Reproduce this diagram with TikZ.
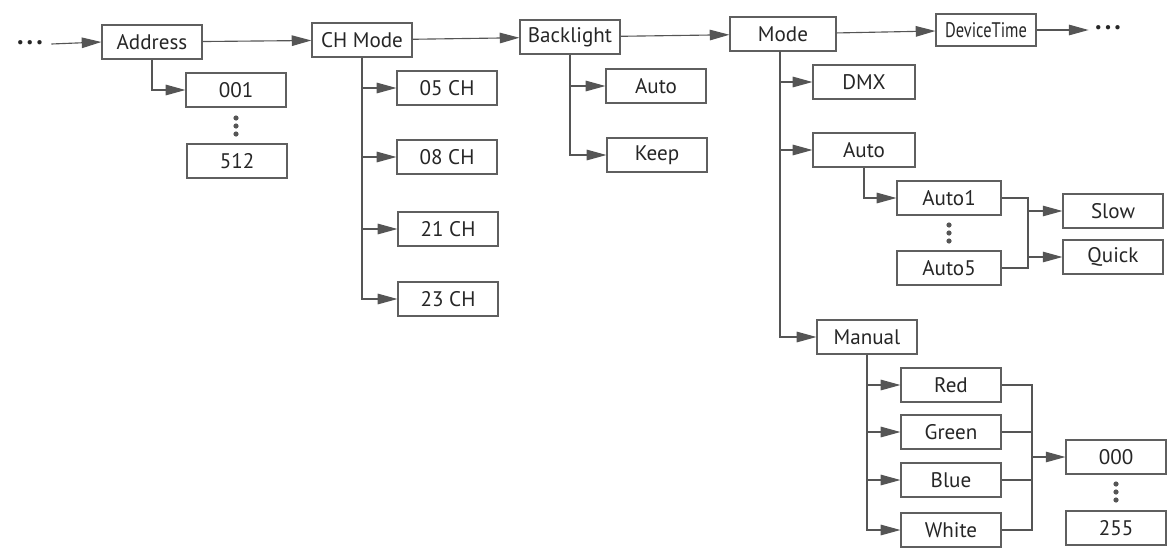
\documentclass[tikz,border=0pt]{standalone}
\usepackage{fontspec}
\setmainfont{PT Sans}
\usetikzlibrary{arrows.meta}
\definecolor{linie}{RGB}{85,85,85}
\definecolor{rahmen}{RGB}{95,95,95}
\tikzset{
	box/.style={draw=rahmen, line width=0.8pt, minimum width=2.5cm, minimum height=0.85cm, inner sep=0pt, font=\fontsize{15}{17}\selectfont, text=black!85},
	verb/.style={draw=linie, line width=0.8pt},
	pfeil/.style={verb, -{Triangle[length=14pt,width=7.5pt]}},
	punkte/.style={font=\fontsize{11}{13}\selectfont, text=black!85, inner sep=0pt},
}
\begin{document}
\begin{tikzpicture}[x=0.025cm, y=-0.025cm]
	
	\useasboundingbox (0,0) rectangle (1170,547);
	
	% Hauptzeile
	\node[punkte] (anfang) at (30,44) {\textbullet\,\textbullet\,\textbullet};
	\node[box] (address) at (152,42) {Address};
	\node[box] (chmode) at (362,40) {CH Mode};
	\node[box] (backlight) at (570,37) {Backlight};
	\node[box, minimum width=2.65cm] (mode) at (783,34) {Mode};
	\node[box, minimum height=0.8cm] (devtime) at (986,30) {\scalebox{0.78}[1]{DeviceTime}};
	\node[punkte] (ende) at (1108,29) {\textbullet\,\textbullet\,\textbullet};
	
	\draw[pfeil] (anfang.east) ++(8,0) -- (address.west);
	\draw[pfeil] (address) -- (chmode);
	\draw[pfeil] (chmode) -- (backlight);
	\draw[pfeil] (backlight) -- (mode);
	\draw[pfeil] (mode) -- (devtime);
	\draw[pfeil] (devtime.east) -- ++(52,0) coordinate (pfeilende);
	
	% Address
	\node[box] (a001) at (236,90) {001};
	\node[box] (a512) at (237,161) {512};
	\foreach \y in {118,126,134} \fill[linie] (236,\y) circle (2.6);
	\draw[pfeil] (address.south) |- (a001.west);
	
	% CH Mode
	\node[box] (ch05) at (447,88) {05 CH};
	\node[box] (ch08) at (447,157) {08 CH};
	\node[box] (ch21) at (448,229) {21 CH};
	\node[box] (ch23) at (448,299) {23 CH};
	\foreach \k in {ch05,ch08,ch21,ch23}
		\draw[pfeil] (chmode.south) |- (\k.west);
	
	% Backlight
	\node[box] (bauto) at (656,86) {Auto};
	\node[box] (bkeep) at (657,155) {Keep};
	\foreach \k in {bauto,bkeep}
		\draw[pfeil] (backlight.south) |- (\k.west);
	
	% Mode
	\node[box, minimum width=2.55cm] (dmx) at (864,82) {DMX};
	\node[box, minimum width=2.55cm] (mauto) at (864,150) {Auto};
	\node[box] (manual) at (867,337) {Manual};
	\coordinate (modefuss) at (780,51);
	\foreach \k in {dmx,mauto,manual}
		\draw[pfeil] (modefuss) |- (\k.west);
	
	% Auto
	\node[box, minimum width=2.6cm] (auto1) at (949,198) {Auto1};
	\node[box, minimum width=2.6cm] (auto5) at (949,268) {Auto5};
	\foreach \y in {225,233,241} \fill[linie] (949,\y) circle (2.6);
	\node[box] (slow) at (1113,211) {Slow};
	\node[box] (quick) at (1113,257) {Quick};
	\draw[pfeil] (mauto.south) |- (auto1.west);
	\coordinate (abus) at (1028,0);
	\draw[verb] (auto1.east) -| (abus |- auto5.east) -- (auto5.east);
	\draw[pfeil] (abus |- slow.west) -- (slow.west);
	\draw[pfeil] (abus |- quick.west) -- (quick.west);
	
	% Manual
	\node[box] (red) at (951,385) {Red};
	\node[box] (green) at (951,432) {Green};
	\node[box] (blue) at (951,480) {Blue};
	\node[box] (white) at (951,530) {White};
	\foreach \k in {red,green,blue,white}
		\draw[pfeil] (manual.south) |- (\k.west);
	\coordinate (mbus) at (1032,0);
	\draw[verb] (red.east) -| (mbus |- white.east) -- (white.east);
	\draw[verb] (green.east) -- (mbus |- green.east);
	\draw[verb] (blue.east) -- (mbus |- blue.east);
	
	\node[box] (m000) at (1116,457) {000};
	\node[box] (m255) at (1116,528) {255};
	\foreach \y in {484,492,500} \fill[linie] (1116,\y) circle (2.6);
	\draw[pfeil] (mbus |- m000.west) -- (m000.west);
	
\end{tikzpicture}
\end{document}
